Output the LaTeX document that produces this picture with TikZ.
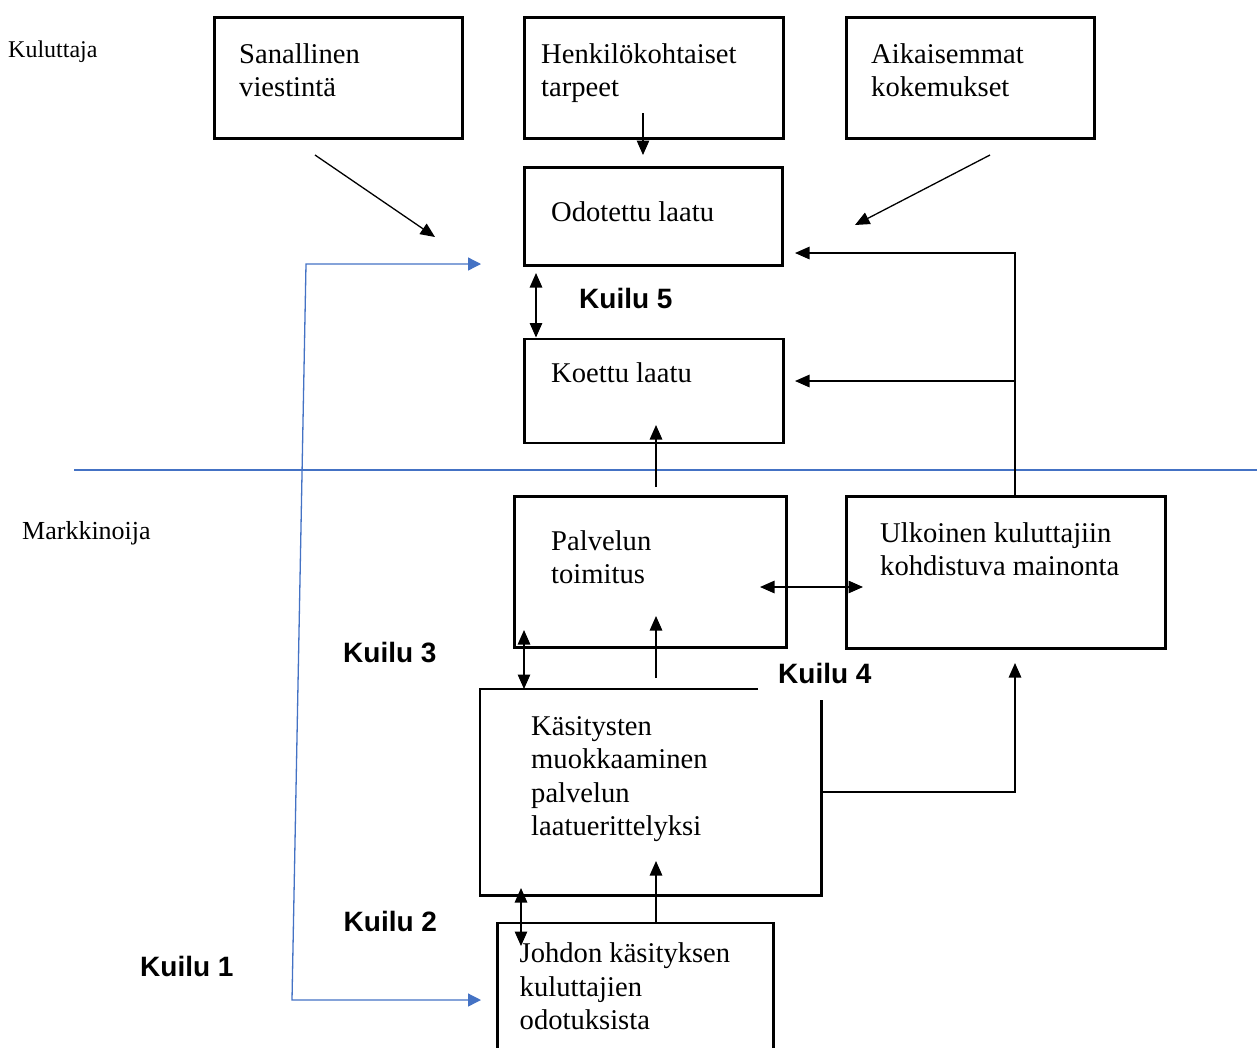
\documentclass[tikz,border=0pt]{standalone}
\usepackage{fontspec}
\setmainfont{Liberation Serif}
\setsansfont{Liberation Sans}
\usetikzlibrary{arrows.meta}
\definecolor{linkblue}{HTML}{4472C4}

\begin{document}
\begin{tikzpicture}[x=1pt,y=-1pt,
  box/.style={draw, line width=2.8pt, inner sep=0pt, anchor=north west},
  area/.style={inner sep=0pt, anchor=north west},
  % multi-line texts are placed by the baseline of their last line
  txt/.style={anchor=base west, inner sep=0pt, align=left, font=\fontsize{28.6}{33.4}\selectfont},
  gaplabel/.style={anchor=base west, inner sep=0pt, font=\fontsize{28}{33.5}\selectfont\sffamily\bfseries},
  side/.style={anchor=base west, inner sep=0pt},
  link/.style={line width=1.3pt, -{Triangle[length=14.5pt,width=12.5pt]}},
  both/.style={line width=1.3pt, {Triangle[length=14.5pt,width=12.5pt]}-{Triangle[length=14.5pt,width=12.5pt]}},
  bluelink/.style={draw=linkblue, line width=1.3pt, {Triangle[length=13pt,width=13pt]}-{Triangle[length=13pt,width=13pt]}, color=linkblue}
]
\useasboundingbox (0,0) rectangle (1257,1047);

% side labels
\node[side, font=\fontsize{24}{28}\selectfont] (kul) at (8,57) {Kuluttaja};
\node[side, font=\fontsize{26}{30}\selectfont] (mark) at (22,539) {Markkinoija};

% boxes
\node[box, minimum width=248pt, minimum height=121pt] (san) at (213,16) {};
\node[box, minimum width=259pt, minimum height=121pt] (hen) at (523,16) {};
\node[box, minimum width=248pt, minimum height=121pt] (aik) at (845,16) {};
\node[box, minimum width=258pt, minimum height=98pt] (odo) at (523,166) {};
\node[box, minimum width=259pt, minimum height=104pt] (koe) at (523,337.5) {};
\node[box, minimum width=272pt, minimum height=151pt] (pal) at (513,495) {};
\node[box, minimum width=319pt, minimum height=152pt] (ulk) at (845,495) {};
\node[area, minimum width=341pt, minimum height=206pt] (kas) at (480,689) {};
\node[box, minimum width=276pt, minimum height=140pt] (joh) at (496,921.5) {};

% the open outline of the specification box
\draw[line width=2.8pt] ([xshift=278pt]kas.north west) -- (kas.north west)
  -- (kas.south west) -- (kas.south east) -- ([yshift=-11pt]kas.north east);

% box texts
\node[txt] (sanT) at (239,96.5) {Sanallinen\\viestintä};
\node[txt] (henT) at (541,96.5) {Henkilökohtaiset\\tarpeet};
\node[txt] (aikT) at (871,96.5) {Aikaisemmat\\kokemukset};
\node[txt] (odoT) at (551,221) {Odotettu laatu};
\node[txt] (koeT) at (551,382.5) {Koettu laatu};
\node[txt] (palT) at (551,583.5) {Palvelun\\toimitus};
\node[txt] (ulkT) at (880,575.5) {Ulkoinen kuluttajiin\\kohdistuva mainonta};
\node[txt] (kasT) at (531,835.5) {Käsitysten\\muokkaaminen\\palvelun\\laatuerittelyksi};
\node[txt] (johT) at (519.5,1029.5) {Johdon käsityksen\\kuluttajien\\odotuksista};

% gap labels
\node[gaplabel] (k5) at (579,308) {Kuilu 5};
\node[gaplabel] (k3) at (343,662) {Kuilu 3};
\node[gaplabel] (k4) at (778,683.5) {Kuilu 4};
\node[gaplabel] (k2) at (343.5,931) {Kuilu 2};
\node[gaplabel] (k1) at (140,976) {Kuilu 1};

% consumer / marketer divider
\coordinate (divL) at (74,470);
\coordinate (divR) at (1257,470);
\draw[linkblue, line width=1.1pt] (divL) -- (divR);

% free ends of connectors
\coordinate (sanA) at (315,155);  \coordinate (sanB) at (435,237);
\coordinate (aikA) at (990,155);  \coordinate (aikB) at (855,225);
\coordinate (henA) at (643,113);  \coordinate (henB) at (643,155);
\coordinate (blA) at (481,264);   \coordinate (blB) at (306,264);
\coordinate (blC) at (292,1000);  \coordinate (blD) at (481,1000);
\coordinate (g5A) at (536,273);   \coordinate (g5B) at (536,337.5);
\coordinate (koeA) at (656,487);  \coordinate (koeB) at (656,425);
\coordinate (ulkUp) at (1015,495);
\coordinate (loopTop) at (1015,253); \coordinate (odoIn) at (795,253);
\coordinate (loopMid) at (1015,381); \coordinate (koeIn) at (795,381);
\coordinate (puA) at (760,587);   \coordinate (puB) at (863,587);
\coordinate (g3A) at (524,630);   \coordinate (g3B) at (524,689);
\coordinate (palA) at (656,678);  \coordinate (palB) at (656,616);
\coordinate (kasOut) at (821,792); \coordinate (kasTurn) at (1015,792);
\coordinate (ulkIn) at (1015,663);
\coordinate (g2A) at (521,888);   \coordinate (g2B) at (521,946);
\coordinate (johA) at (656,921.5); \coordinate (johB) at (656,861);

% consumer side connectors
\draw[link] (sanA) -- (sanB);
\draw[link] (aikA) -- (aikB);
\draw[link] (henA) -- (henB);
\draw[both] (g5A) -- (g5B);
\draw[link] (koeA) -- (koeB);
\draw[link] (ulkUp) -- (loopTop) -- (odoIn);
\draw[link] (loopMid) -- (koeIn);

% marketer side connectors
\draw[both] (puA) -- (puB);
\draw[both] (g3A) -- (g3B);
\draw[link] (palA) -- (palB);
\draw[link] (kasOut) -- (kasTurn) -- (ulkIn);
\draw[both] (g2A) -- (g2B);
\draw[link] (johA) -- (johB);

% gap 1: expected quality vs. management perception
\draw[bluelink] (blA) -- (blB) -- (blC) -- (blD);
\end{tikzpicture}
\end{document}
